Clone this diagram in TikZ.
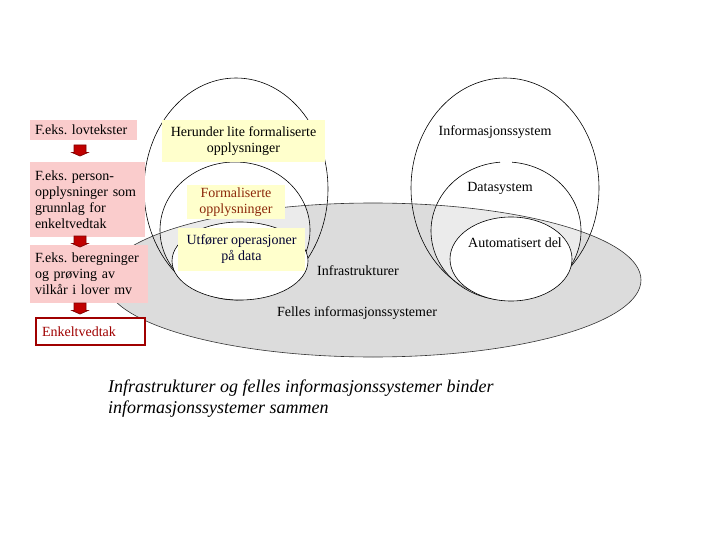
\documentclass[tikz,border=0pt]{standalone}
\usepackage{fontspec}
\setmainfont{Liberation Serif}
\frenchspacing
\definecolor{pinkc}{RGB}{250,204,204}
\definecolor{yellowc}{RGB}{255,255,204}
\definecolor{grayc}{RGB}{220,220,220}
\definecolor{arrfill}{RGB}{192,0,0}
\definecolor{arrdraw}{RGB}{128,0,0}
\definecolor{enkc}{RGB}{160,0,0}
\definecolor{formc}{RGB}{140,40,10}
\definecolor{utfc}{RGB}{0,0,51}
\newcommand\fsmain{\fontsize{14}{16}\selectfont}
\newcommand\blockarrow[1]{%
  \draw[blockarr] ([shift={(-6,-5.5)}]#1) -- ([shift={(6,-5.5)}]#1) -- ([shift={(6,2)}]#1)
    -- ([shift={(8,2)}]#1) -- ([shift={(0,5.5)}]#1) -- ([shift={(-8,2)}]#1)
    -- ([shift={(-6,2)}]#1) -- cycle;}
\begin{document}
\begin{tikzpicture}[x=1pt,y=-1pt,
  pinkbox/.style={fill=pinkc, inner sep=0pt, align=left, font=\fsmain},
  yellowbox/.style={fill=yellowc, inner sep=0pt, align=center, font=\fsmain},
  enkbox/.style={fill=white, draw=enkc, line width=2.5pt, inner sep=0pt, align=left, font=\fsmain, text=enkc},
  blockarr/.style={fill=arrfill, draw=arrdraw, line width=0.7pt, line join=miter},
  lbl/.style={font=\fsmain, inner sep=0pt},
  ell/.style={draw=black, line width=0.6pt}
]
\useasboundingbox (0,0) rectangle (720,540);
% gray ellipse fill
\fill[grayc] (373,280) ellipse [x radius=268pt, y radius=77pt];
% outer ellipses
\draw[ell] (236,189) ellipse [x radius=92pt, y radius=111pt];
\draw[ell] (505,188) ellipse [x radius=94pt, y radius=110pt];
% inner ellipses
\fill[white, fill opacity=0.45] (235,230) ellipse [x radius=75pt, y radius=68pt];
\draw[ell] (235,230) ellipse [x radius=75pt, y radius=68pt];
\fill[white, fill opacity=0.45] (506,231) ellipse [x radius=75pt, y radius=69pt];
\draw[ell] (500,162.2) arc [start angle=94.6, end angle=445.4, x radius=75pt, y radius=69pt];
% innermost ellipses
\filldraw[ell, fill=white] (240,261) ellipse [x radius=68pt, y radius=39pt];
\filldraw[ell, fill=white] (511,259) ellipse [x radius=61pt, y radius=42pt];
% gray ellipse outline
\draw[black!80, line width=0.6pt] (373,280) ellipse [x radius=268pt, y radius=77pt];

% left chain
\node[pinkbox, minimum width=107pt, minimum height=20pt, text width=97pt] (b1) at (83.5,130) {F.eks. lovtekster};
\node[pinkbox, minimum width=115pt, minimum height=75pt, text width=105pt] (b2) at (87.5,199.5) {F.eks. person-\\opplysninger som\\grunnlag for\\enkeltvedtak};
\node[pinkbox, minimum width=118pt, minimum height=58pt, text width=108pt] (b3) at (89,274) {F.eks. beregninger\\og prøving av\\vilkår i lover mv};
\node[enkbox, minimum width=109pt, minimum height=27pt, text width=97pt] (b4) at (90.5,331.5) {Enkeltvedtak};
\coordinate (a1) at (80,150.5);
\coordinate (a2) at (80,241.5);
\coordinate (a3) at (80,308.5);
\blockarrow{a1}
\blockarrow{a2}
\blockarrow{a3}

% yellow boxes
\node[yellowbox, minimum width=163pt, minimum height=42pt] (y1) at (243.5,141) {Herunder lite formaliserte\\opplysninger};
\node[yellowbox, minimum width=98pt, minimum height=34pt, text=formc] (y2) at (236,202) {Formaliserte\\opplysninger};
\node[yellowbox, minimum width=127pt, minimum height=43pt, text=utfc] (y3) at (241.5,249.5) {Utfører operasjoner\\på data};

% labels
\node[lbl] (l1) at (495,132) {Informasjonssystem};
\node[lbl] (l2) at (500,188) {Datasystem};
\node[lbl] (l3) at (515,243) {Automatisert del};
\node[lbl] (l4) at (358,271) {Infrastrukturer};
\node[lbl] (l5) at (357,313) {Felles informasjonssystemer};

% caption
\node[anchor=base west, inner sep=0pt, font=\fontsize{18}{21}\selectfont\itshape] (c1) at (108,392) {Infrastrukturer og felles informasjonssystemer binder};
\node[anchor=base west, inner sep=0pt, font=\fontsize{18}{21}\selectfont\itshape] (c2) at (108,413) {informasjonssystemer sammen};
\end{tikzpicture}
\end{document}
